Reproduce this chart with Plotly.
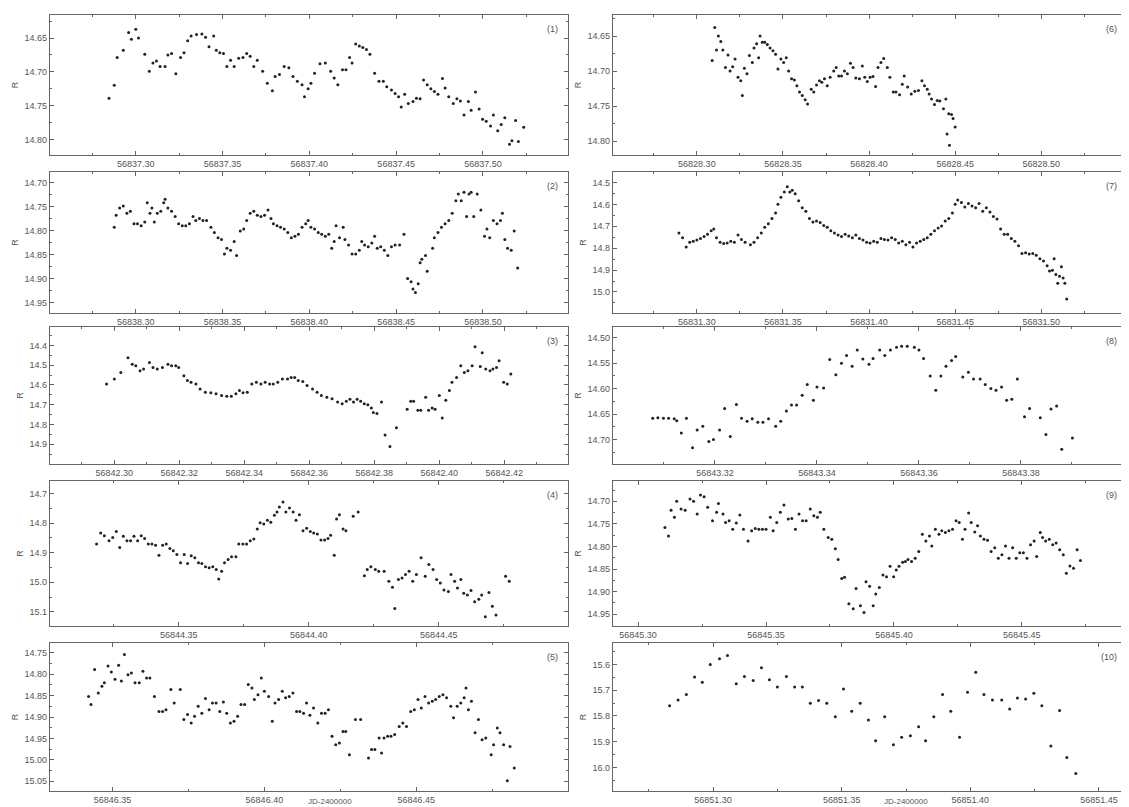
import plotly.graph_objects as go

# ---------------- data (JD - 2400000 = day + fractional part; R magnitude) ----------------
day1 = 56837
t1 = [.2846,.2876,.2893,.2928,.2959,.2975,.3000,.3016,.3052,.3078,.3099,.3119,.3140,.3169,.3185,.3206,.3231,.3258,.3278,.3299,
      .3319,.3350,.3381,.3402,.3422,.3449,.3464,.3484,.3505,.3525,.3546,.3567,.3593,.3618,.3639,.3659,.3680,.3700,.3731,.3758,
      .3787,.3803,.3828,.3855,.3882,.3906,.3931,.3958,.3972,.3993,.4009,.4030,.4061,.4092,.4123,.4143,.4164,.4191,.4211,.4232,
      .4246,.4267,.4288,.4308,.4329,.4349,.4376,.4401,.4426,.4446,.4473,.4494,.4514,.4529,.4549,.4570,.4597,.4617,.4638,.4658,
      .4679,.4700,.4720,.4741,.4767,.4782,.4803,.4829,.4850,.4870,.4891,.4916,.4932,.4957,.4978,.4998,.5019,.5044,.5060,.5085,
      .5105,.5126,.5153,.5167,.5188,.5204,.5235]
m1 = [14.739,14.720,14.679,14.668,14.642,14.652,14.637,14.650,14.674,14.699,14.687,14.684,14.692,14.692,14.675,14.673,14.703,14.679,14.672,14.654,
      14.647,14.645,14.644,14.649,14.663,14.647,14.668,14.672,14.673,14.692,14.683,14.692,14.680,14.679,14.673,14.677,14.692,14.683,14.699,14.717,
      14.728,14.707,14.704,14.692,14.694,14.707,14.714,14.719,14.737,14.725,14.717,14.702,14.688,14.687,14.699,14.709,14.719,14.697,14.697,14.679,
      14.687,14.659,14.662,14.664,14.667,14.674,14.702,14.714,14.714,14.722,14.727,14.732,14.737,14.752,14.733,14.747,14.744,14.739,14.740,14.712,
      14.719,14.725,14.729,14.733,14.710,14.724,14.737,14.747,14.740,14.743,14.764,14.744,14.757,14.730,14.755,14.770,14.773,14.780,14.764,14.787,
      14.778,14.768,14.807,14.802,14.772,14.803,14.782]

day2 = 56838
t2 = [.2876,.2887,.2907,.2928,.2949,.2969,.2990,.3010,.3031,.3052,.3066,.3082,.3093,.3107,.3124,.3144,.3161,.3169,.3185,.3206,
      .3227,.3247,.3268,.3288,.3309,.3330,.3346,.3367,.3387,.3408,.3433,.3453,.3474,.3494,.3511,.3525,.3546,.3567,.3581,.3602,
      .3622,.3639,.3659,.3680,.3700,.3721,.3742,.3762,.3779,.3793,.3814,.3834,.3855,.3876,.3896,.3917,.3937,.3958,.3979,.3993,
      .4009,.4030,.4051,.4071,.4092,.4112,.4129,.4143,.4154,.4174,.4195,.4205,.4226,.4246,.4267,.4288,.4302,.4318,.4339,.4360,
      .4376,.4391,.4411,.4432,.4452,.4473,.4494,.4520,.4545,.4566,.4586,.4597,.4611,.4627,.4638,.4648,.4669,.4679,.4710,.4720,
      .4741,.4761,.4782,.4803,.4823,.4844,.4858,.4875,.4891,.4906,.4920,.4932,.4947,.4967,.4988,.5009,.5023,.5039,.5060,.5081,
      .5101,.5112,.5126,.5142,.5163,.5180,.5200]
m2 = [14.793,14.768,14.753,14.749,14.764,14.760,14.786,14.786,14.790,14.782,14.742,14.764,14.753,14.782,14.764,14.760,14.742,14.735,14.753,14.760,
      14.771,14.786,14.790,14.790,14.786,14.771,14.779,14.775,14.779,14.779,14.793,14.804,14.815,14.819,14.849,14.837,14.841,14.823,14.852,14.801,
      14.797,14.779,14.764,14.760,14.768,14.771,14.768,14.757,14.775,14.786,14.790,14.793,14.797,14.804,14.815,14.812,14.808,14.793,14.786,14.779,
      14.793,14.797,14.804,14.808,14.812,14.808,14.837,14.823,14.790,14.815,14.793,14.819,14.830,14.849,14.849,14.841,14.823,14.830,14.834,14.826,
      14.812,14.837,14.834,14.841,14.852,14.834,14.830,14.830,14.808,14.900,14.907,14.922,14.929,14.911,14.867,14.860,14.852,14.885,14.837,14.815,
      14.804,14.793,14.786,14.779,14.764,14.738,14.724,14.738,14.720,14.771,14.724,14.720,14.771,14.724,14.757,14.812,14.797,14.815,14.779,14.786,
      14.779,14.764,14.819,14.837,14.841,14.801,14.878]

day3 = 56842
t3 = [.2976,.3000,.3020,.3042,.3055,.3066,.3079,.3090,.3108,.3119,.3132,.3148,.3165,.3176,.3189,.3198,.3214,.3225,.3236,.3251,
      .3264,.3280,.3297,.3313,.3330,.3346,.3360,.3374,.3385,.3396,.3409,.3423,.3437,.3451,.3464,.3478,.3489,.3503,.3517,.3533,
      .3544,.3555,.3566,.3580,.3593,.3610,.3624,.3637,.3654,.3670,.3687,.3701,.3714,.3725,.3736,.3747,.3758,.3769,.3780,.3791,
      .3797,.3808,.3822,.3833,.3848,.3868,.3901,.3912,.3921,.3934,.3943,.3958,.3967,.3978,.3987,.4000,.4009,.4020,.4031,.4039,
      .4053,.4066,.4077,.4088,.4101,.4110,.4126,.4132,.4143,.4156,.4165,.4176,.4184,.4198,.4209,.4220]
m3 = [14.595,14.570,14.537,14.462,14.495,14.503,14.528,14.520,14.487,14.512,14.520,14.512,14.495,14.503,14.503,14.512,14.553,14.578,14.587,14.595,
      14.620,14.637,14.640,14.645,14.653,14.657,14.657,14.645,14.628,14.640,14.637,14.595,14.587,14.595,14.587,14.595,14.595,14.587,14.570,14.570,
      14.562,14.562,14.578,14.583,14.603,14.620,14.637,14.653,14.662,14.670,14.687,14.695,14.683,14.673,14.687,14.673,14.683,14.695,14.700,14.717,
      14.740,14.745,14.687,14.853,14.912,14.817,14.723,14.683,14.683,14.728,14.728,14.662,14.728,14.717,14.723,14.653,14.767,14.678,14.628,14.587,
      14.562,14.503,14.537,14.528,14.503,14.407,14.507,14.437,14.520,14.528,14.520,14.512,14.478,14.587,14.595,14.545]

day4 = 56844
t4 = [.3184,.3200,.3214,.3232,.3246,.3260,.3273,.3287,.3301,.3315,.3328,.3342,.3356,.3369,.3383,.3397,.3411,.3424,.3438,.3452,
      .3466,.3479,.3493,.3507,.3521,.3534,.3548,.3562,.3576,.3589,.3603,.3617,.3631,.3644,.3654,.3665,.3676,.3690,.3703,.3720,
      .3731,.3747,.3761,.3775,.3789,.3802,.3813,.3827,.3841,.3854,.3868,.3878,.3887,.3901,.3912,.3926,.3940,.3951,.3964,.3978,
      .3992,.4006,.4019,.4033,.4047,.4061,.4074,.4084,.4098,.4107,.4118,.4132,.4143,.4171,.4190,.4214,.4225,.4239,.4256,.4269,
      .4290,.4308,.4322,.4331,.4345,.4359,.4372,.4386,.4400,.4414,.4432,.4448,.4462,.4478,.4492,.4506,.4520,.4537,.4547,.4561,
      .4572,.4585,.4596,.4610,.4624,.4638,.4654,.4665,.4679,.4693,.4706,.4720,.4757,.4771]
m4 = [14.871,14.834,14.843,14.860,14.849,14.829,14.883,14.845,14.860,14.860,14.845,14.860,14.843,14.852,14.871,14.871,14.875,14.909,14.875,14.871,
      14.886,14.894,14.906,14.934,14.906,14.937,14.911,14.917,14.934,14.937,14.948,14.951,14.948,14.957,14.989,14.963,14.934,14.923,14.914,14.914,
      14.871,14.871,14.871,14.860,14.854,14.820,14.799,14.803,14.791,14.797,14.774,14.763,14.746,14.729,14.763,14.749,14.763,14.791,14.772,14.826,
      14.818,14.829,14.834,14.837,14.857,14.857,14.852,14.841,14.909,14.786,14.772,14.820,14.826,14.777,14.763,14.978,14.957,14.948,14.957,14.963,
      14.963,14.997,15.017,15.089,14.991,14.986,14.974,14.963,14.997,14.974,14.917,14.980,14.940,14.957,14.991,15.003,15.026,15.031,14.974,14.997,
      15.020,14.991,15.037,15.043,15.028,15.066,15.058,15.043,15.117,15.035,15.081,15.111,14.980,14.997]

day5 = 56846
t5 = [.3421,.3429,.3441,.3453,.3465,.3473,.3485,.3496,.3508,.3520,.3529,.3539,.3551,.3562,.3574,.3588,.3600,.3612,.3623,.3638,
      .3653,.3665,.3676,.3692,.3703,.3723,.3735,.3747,.3759,.3770,.3782,.3794,.3806,.3818,.3829,.3841,.3853,.3865,.3876,.3888,
      .3900,.3912,.3923,.3935,.3947,.3959,.3967,.3979,.3990,.4000,.4014,.4026,.4035,.4047,.4059,.4070,.4082,.4094,.4106,.4117,
      .4129,.4139,.4150,.4162,.4176,.4188,.4200,.4211,.4223,.4235,.4247,.4259,.4268,.4280,.4300,.4317,.4343,.4353,.4364,.4378,
      .4386,.4394,.4406,.4417,.4429,.4444,.4456,.4468,.4482,.4494,.4506,.4517,.4529,.4541,.4553,.4564,.4576,.4588,.4600,.4614,
      .4623,.4635,.4647,.4658,.4664,.4672,.4682,.4694,.4705,.4717,.4729,.4747,.4755,.4767,.4776,.4788,.4800,.4809,.4823]
m5 = [14.852,14.871,14.789,14.844,14.828,14.820,14.781,14.795,14.812,14.779,14.816,14.754,14.801,14.797,14.820,14.820,14.793,14.809,14.809,14.852,
      14.887,14.887,14.883,14.836,14.867,14.836,14.906,14.894,14.914,14.898,14.875,14.891,14.857,14.883,14.867,14.867,14.887,14.865,14.891,14.914,
      14.910,14.898,14.871,14.871,14.824,14.832,14.859,14.848,14.809,14.840,14.852,14.910,14.867,14.859,14.840,14.855,14.852,14.844,14.887,14.887,
      14.891,14.867,14.896,14.879,14.914,14.891,14.891,14.883,14.945,14.965,14.961,14.934,14.934,14.988,14.906,14.906,14.996,14.976,14.976,14.949,
      14.984,14.949,14.945,14.945,14.941,14.922,14.914,14.922,14.887,14.883,14.859,14.879,14.852,14.867,14.863,14.859,14.852,14.848,14.855,14.875,
      14.902,14.875,14.867,14.855,14.832,14.883,14.863,14.937,14.906,14.953,14.949,14.988,14.965,14.926,14.937,14.965,15.049,14.969,15.019]

day6 = 56828
t6 = [.3089,.3104,.3114,.3125,.3139,.3151,.3166,.3181,.3193,.3208,.3222,.3239,.3255,.3264,.3276,.3291,.3305,.3322,.3332,.3347,
      .3359,.3367,.3380,.3394,.3409,.3425,.3442,.3457,.3471,.3488,.3504,.3519,.3533,.3550,.3566,.3581,.3596,.3612,.3629,.3643,
      .3664,.3679,.3695,.3712,.3726,.3741,.3757,.3774,.3795,.3809,.3824,.3840,.3857,.3874,.3892,.3907,.3923,.3944,.3961,.3975,
      .3990,.4006,.4023,.4038,.4052,.4069,.4085,.4106,.4121,.4141,.4156,.4177,.4193,.4204,.4224,.4245,.4266,.4287,.4307,.4322,
      .4338,.4349,.4363,.4380,.4396,.4411,.4432,.4446,.4453,.4463,.4467,.4479,.4488,.4500]
m6 = [14.685,14.638,14.670,14.650,14.658,14.670,14.695,14.677,14.700,14.694,14.683,14.709,14.714,14.735,14.696,14.704,14.678,14.688,14.667,14.661,
      14.681,14.650,14.659,14.659,14.662,14.667,14.671,14.676,14.697,14.683,14.688,14.681,14.700,14.711,14.713,14.721,14.730,14.735,14.741,14.747,
      14.726,14.730,14.720,14.714,14.716,14.711,14.721,14.709,14.700,14.695,14.707,14.707,14.700,14.704,14.689,14.695,14.710,14.711,14.693,14.709,
      14.715,14.709,14.708,14.722,14.695,14.688,14.682,14.695,14.709,14.730,14.730,14.734,14.719,14.707,14.723,14.733,14.729,14.728,14.714,14.721,
      14.726,14.733,14.740,14.748,14.742,14.743,14.754,14.740,14.790,14.761,14.806,14.762,14.768,14.780]

day7 = 56831
t7 = [.2896,.2917,.2938,.2958,.2979,.3000,.3021,.3042,.3062,.3083,.3098,.3114,.3135,.3156,.3176,.3197,.3218,.3239,.3259,.3280,
      .3311,.3332,.3353,.3374,.3394,.3415,.3436,.3457,.3471,.3488,.3508,.3525,.3540,.3554,.3571,.3591,.3612,.3633,.3654,.3674,
      .3695,.3716,.3737,.3757,.3778,.3799,.3820,.3840,.3861,.3882,.3903,.3923,.3944,.3965,.3986,.4006,.4027,.4048,.4069,.4089,
      .4110,.4131,.4152,.4172,.4193,.4214,.4235,.4255,.4276,.4297,.4318,.4338,.4359,.4380,.4401,.4421,.4442,.4463,.4484,.4500,
      .4515,.4536,.4556,.4577,.4598,.4619,.4639,.4660,.4681,.4702,.4722,.4743,.4764,.4785,.4805,.4826,.4847,.4868,.4888,.4909,
      .4930,.4951,.4971,.4992,.5013,.5034,.5048,.5065,.5075,.5085,.5096,.5106,.5117,.5127,.5137,.5148]
m7 = [14.731,14.752,14.795,14.773,14.768,14.763,14.756,14.747,14.736,14.720,14.712,14.752,14.773,14.779,14.776,14.768,14.773,14.740,14.760,14.773,
      14.784,14.773,14.752,14.731,14.704,14.688,14.664,14.639,14.599,14.567,14.543,14.519,14.543,14.535,14.551,14.583,14.615,14.631,14.664,14.680,
      14.676,14.683,14.696,14.704,14.720,14.731,14.740,14.747,14.736,14.744,14.752,14.740,14.756,14.763,14.773,14.776,14.768,14.773,14.756,14.760,
      14.763,14.752,14.760,14.776,14.768,14.784,14.773,14.795,14.776,14.768,14.760,14.752,14.736,14.720,14.708,14.699,14.676,14.664,14.639,14.599,
      14.580,14.591,14.612,14.596,14.607,14.615,14.596,14.631,14.615,14.635,14.655,14.667,14.712,14.736,14.736,14.756,14.768,14.789,14.824,14.821,
      14.827,14.824,14.832,14.848,14.859,14.880,14.904,14.901,14.848,14.920,14.960,14.928,14.885,14.936,14.960,15.032]

day8 = 56843
t8 = [.3078,.3088,.3099,.3109,.3120,.3125,.3134,.3144,.3156,.3165,.3176,.3188,.3197,.3209,.3219,.3230,.3242,.3252,.3263,.3273,
      .3284,.3294,.3305,.3319,.3329,.3340,.3350,.3360,.3371,.3381,.3393,.3400,.3413,.3425,.3437,.3448,.3458,.3469,.3479,.3490,
      .3502,.3510,.3523,.3533,.3544,.3556,.3566,.3577,.3591,.3600,.3609,.3622,.3633,.3643,.3653,.3664,.3672,.3686,.3697,.3707,
      .3720,.3730,.3741,.3751,.3762,.3772,.3782,.3793,.3807,.3817,.3838,.3849,.3859,.3870,.3880,.3901]
m8 = [14.658,14.657,14.658,14.658,14.659,14.663,14.687,14.658,14.716,14.681,14.674,14.704,14.700,14.681,14.639,14.694,14.631,14.658,14.664,14.659,
      14.666,14.666,14.659,14.674,14.664,14.644,14.632,14.632,14.613,14.592,14.623,14.597,14.599,14.543,14.573,14.550,14.535,14.556,14.524,14.542,
      14.552,14.541,14.524,14.535,14.524,14.519,14.517,14.517,14.519,14.524,14.541,14.575,14.603,14.575,14.556,14.545,14.537,14.577,14.568,14.581,
      14.581,14.592,14.600,14.603,14.597,14.623,14.621,14.581,14.655,14.639,14.657,14.690,14.640,14.634,14.719,14.697]

day9 = 56845
t9 = [.3105,.3119,.3129,.3142,.3151,.3168,.3184,.3203,.3217,.3231,.3244,.3258,.3272,.3291,.3307,.3314,.3332,.3342,.3356,.3370,
      .3384,.3398,.3412,.3430,.3444,.3458,.3472,.3486,.3500,.3517,.3528,.3542,.3556,.3570,.3587,.3601,.3615,.3629,.3643,.3657,
      .3673,.3687,.3701,.3712,.3726,.3743,.3757,.3771,.3782,.3796,.3807,.3824,.3841,.3852,.3869,.3883,.3891,.3905,.3919,.3929,
      .3943,.3957,.3971,.3985,.3999,.4009,.4020,.4034,.4045,.4055,.4069,.4083,.4097,.4111,.4125,.4139,.4148,.4162,.4176,.4187,
      .4201,.4215,.4229,.4243,.4255,.4268,.4278,.4292,.4302,.4316,.4327,.4338,.4352,.4366,.4380,.4394,.4408,.4422,.4436,.4450,
      .4464,.4478,.4492,.4506,.4520,.4534,.4548,.4558,.4572,.4581,.4593,.4607,.4621,.4634,.4648,.4662,.4674,.4688,.4702,.4716,
      .4729]
m9 = [14.758,14.777,14.720,14.735,14.700,14.717,14.720,14.695,14.700,14.728,14.686,14.690,14.713,14.743,14.724,14.705,14.728,14.747,14.743,14.762,
      14.748,14.730,14.762,14.788,14.765,14.760,14.762,14.762,14.762,14.735,14.765,14.747,14.724,14.708,14.739,14.738,14.762,14.728,14.743,14.743,
      14.717,14.732,14.735,14.724,14.762,14.780,14.784,14.805,14.829,14.871,14.868,14.927,14.938,14.893,14.931,14.946,14.878,14.888,14.931,14.905,
      14.891,14.863,14.867,14.844,14.867,14.852,14.844,14.835,14.833,14.829,14.833,14.826,14.811,14.773,14.788,14.777,14.799,14.762,14.773,14.765,
      14.769,14.765,14.762,14.743,14.747,14.784,14.762,14.726,14.747,14.768,14.754,14.777,14.784,14.786,14.811,14.803,14.826,14.818,14.799,14.826,
      14.803,14.826,14.814,14.814,14.826,14.796,14.788,14.822,14.769,14.780,14.788,14.784,14.796,14.792,14.807,14.818,14.859,14.843,14.848,14.807,
      14.831]

day10 = 56851
t10 = [.2831,.2864,.2896,.2928,.2958,.2989,.3025,.3056,.3090,.3122,.3156,.3188,.3219,.3250,.3285,.3317,.3347,.3378,.3410,.3442,
       .3475,.3507,.3539,.3572,.3604,.3632,.3667,.3701,.3733,.3767,.3799,.3826,.3858,.3892,.3924,.3958,.3989,.4021,.4053,.4086,
       .4122,.4153,.4183,.4215,.4247,.4278,.4313,.4347,.4375,.4410]
m10 = [15.760,15.738,15.717,15.649,15.669,15.600,15.578,15.565,15.675,15.647,15.662,15.613,15.660,15.688,15.647,15.688,15.688,15.751,15.740,15.751,
       15.803,15.695,15.782,15.751,15.816,15.896,15.803,15.912,15.883,15.877,15.842,15.896,15.803,15.717,15.782,15.883,15.708,15.630,15.717,15.738,
       15.738,15.773,15.730,15.734,15.712,15.760,15.916,15.779,15.961,16.023]

# ---------------- tick values (labelled) ----------------
xt1 = [56837.30, 56837.35, 56837.40, 56837.45, 56837.50]
xt2 = [56838.30, 56838.35, 56838.40, 56838.45, 56838.50]
xt3 = [56842.30, 56842.32, 56842.34, 56842.36, 56842.38, 56842.40, 56842.42]
xt4 = [56844.35, 56844.40, 56844.45]
xt5 = [56846.35, 56846.40, 56846.45]
xt6 = [56828.30, 56828.35, 56828.40, 56828.45, 56828.50]
xt7 = [56831.30, 56831.35, 56831.40, 56831.45, 56831.50]
xt8 = [56843.32, 56843.34, 56843.36, 56843.38]
xt9 = [56845.30, 56845.35, 56845.40, 56845.45]
xt10 = [56851.30, 56851.35, 56851.40, 56851.45]

yt1 = [14.65, 14.70, 14.75, 14.80]
yt2 = [14.70, 14.75, 14.80, 14.85, 14.90, 14.95]
yt3 = [14.4, 14.5, 14.6, 14.7, 14.8, 14.9]
yt4 = [14.7, 14.8, 14.9, 15.0, 15.1]
yt5 = [14.75, 14.80, 14.85, 14.90, 14.95, 15.00, 15.05]
yt6 = [14.65, 14.70, 14.75, 14.80]
yt7 = [14.5, 14.6, 14.7, 14.8, 14.9, 15.0]
yt8 = [14.50, 14.55, 14.60, 14.65, 14.70]
yt9 = [14.70, 14.75, 14.80, 14.85, 14.90, 14.95]
yt10 = [15.6, 15.7, 15.8, 15.9, 16.0]

panel_labels = ["(1)", "(2)", "(3)", "(4)", "(5)", "(6)", "(7)", "(8)", "(9)", "(10)"]
x_title = "JD-2400000"
y_title = "R"

days = [day1, day2, day3, day4, day5, day6, day7, day8, day9, day10]
ts = [t1, t2, t3, t4, t5, t6, t7, t8, t9, t10]
ms = [m1, m2, m3, m4, m5, m6, m7, m8, m9, m10]
xts = [xt1, xt2, xt3, xt4, xt5, xt6, xt7, xt8, xt9, xt10]
yts = [yt1, yt2, yt3, yt4, yt5, yt6, yt7, yt8, yt9, yt10]

# ---------------- axis settings (fractional-day x ranges, magnitude y ranges) ----------------
x_frac_range = [(.2506, .549), (.2506, .549), (.2802, .4396), (.3005, .4997), (.3294, .5000),
                (.2513, .5498), (.2513, .5498), (.3000, .4008), (.2902, .4911), (.2611, .4609)]
x_minor = [.025, .025, .01, .025, .025, .025, .025, .01, .025, .025]
y_range = [(14.823, 14.616), (14.972, 14.678), (15.0, 14.307), (15.148, 14.658), (15.073, 14.727),
           (14.820, 14.620), (15.096, 14.452), (14.748, 14.479), (14.976, 14.655), (16.091, 15.517)]
y_minor = [.025, .025, .05, .05, .025, .025, .05, .025, .025, .05]

# page body has an 8px default margin: size the figure so the page is 1129 x 807
PAGE_OFF = 8
W, H = 1129 - PAGE_OFF, 807 - PAGE_OFF
col_px = [(50, 568), (613, 1127)]                                    # in page pixels
row_px = [(15, 155), (172, 313), (327, 464), (481, 626), (643, 791)]  # in page pixels


def fx(px):
    return (px - PAGE_OFF) / W


def fy(px):
    return 1 - (px - PAGE_OFF) / H


fig = go.Figure()
font_fam = "Liberation Sans, Arial, sans-serif"
tick_col = "#555555"
line_col = "#666666"

for i in range(10):
    col = 0 if i < 5 else 1
    row = i % 5
    n = i + 1
    sfx = "" if n == 1 else str(n)
    xs = [days[i] + v for v in ts[i]]
    fig.add_trace(go.Scatter(
        x=xs, y=ms[i], mode="markers",
        marker=dict(size=3, color="#222222"),
        xaxis=f"x{sfx}", yaxis=f"y{sfx}", showlegend=False,
        hoverinfo="x+y"))
    x0, x1 = col_px[col]
    y0, y1 = row_px[row]
    xd = [max(0, fx(x0)), min(1, fx(x1))]
    yd = [max(0, fy(y1)), min(1, fy(y0))]
    yfmt = ".1f" if y_minor[i] > 0.03 else ".2f"
    xax = dict(domain=xd, anchor=f"y{sfx}",
               range=[days[i] + x_frac_range[i][0], days[i] + x_frac_range[i][1]],
               tickmode="array", tickvals=xts[i], ticktext=[f"{v:.2f}" for v in xts[i]],
               showgrid=False, zeroline=False, showline=True, linecolor=line_col, linewidth=1.2,
               mirror="ticks", ticks="inside", ticklen=4, tickcolor=line_col,
               minor=dict(tick0=days[i], dtick=x_minor[i], ticks="inside", ticklen=2,
                          tickcolor=line_col, showgrid=False),
               tickfont=dict(family=font_fam, size=9, color=tick_col))
    yax = dict(domain=yd, anchor=f"x{sfx}",
               range=list(y_range[i]),
               tickmode="array", tickvals=yts[i], ticktext=[format(v, yfmt) for v in yts[i]],
               showgrid=False, zeroline=False, showline=True, linecolor=line_col, linewidth=1.2,
               mirror="ticks", ticks="inside", ticklen=4, tickcolor=line_col,
               minor=dict(tick0=14, dtick=y_minor[i], ticks="inside", ticklen=2,
                          tickcolor=line_col, showgrid=False),
               tickfont=dict(family=font_fam, size=9, color=tick_col),
               title=dict(text=y_title, font=dict(family=font_fam, size=9, color=tick_col), standoff=4))
    fig.update_layout(**{f"xaxis{sfx}": xax, f"yaxis{sfx}": yax})
    fig.add_annotation(text=panel_labels[i], xref=f"x{sfx} domain", yref=f"y{sfx} domain",
                       x=0.985, y=0.95, xanchor="right", yanchor="top", showarrow=False,
                       font=dict(family=font_fam, size=9, color=tick_col))

# shared x-axis titles under bottom panels (page pixels)
for cx in (330, 906):
    fig.add_annotation(text=x_title, xref="paper", yref="paper", x=fx(cx), y=fy(801),
                       xanchor="center", yanchor="middle", showarrow=False,
                       font=dict(family=font_fam, size=8, color=tick_col))

fig.update_layout(width=W, height=H, margin=dict(l=0, r=0, t=0, b=0, autoexpand=False),
                  plot_bgcolor="white", paper_bgcolor="white")

fig.write_html("out.html")
